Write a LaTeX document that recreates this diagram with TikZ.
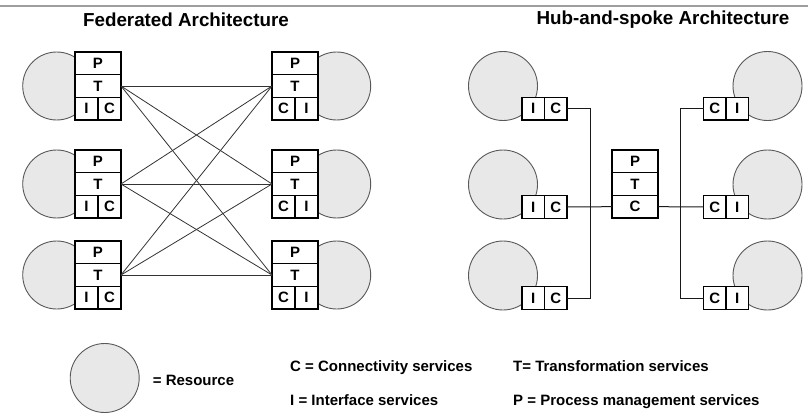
\documentclass[tikz,border=0pt]{standalone}
\usepackage{fontspec}
\setmainfont{Liberation Sans}
\begin{document}
\begin{tikzpicture}[x=1pt,y=-1pt,
  res/.style={circle,draw=black!65,fill=black!9,line width=0.9pt,minimum size=#1,inner sep=0pt},
  res/.default=69pt,
  cell/.style={draw=black,fill=white,line width=1.3pt,inner sep=0pt,outer sep=0pt,
    minimum height=22.67pt,font=\fontsize{15}{17}\selectfont\bfseries},
  wide/.style={cell,minimum width=46pt},
  half/.style={cell,minimum width=23pt},
  link/.style={draw=black!80,line width=0.8pt},
  bus/.style={draw=black!90,line width=1pt},
  title/.style={font=\fontsize{18.8}{22}\selectfont\bfseries},
  legend/.style={font=\fontsize{15}{18}\selectfont\bfseries,anchor=base west,inner sep=0pt}]
\useasboundingbox (0,0) rectangle (810,412);
\draw[black!38,line width=2.2pt] (0,6) -- (808,6);

\node[title] (tfed) at (186,20) {Federated Architecture};
\node[title] (thub) at (663,20) {Hub-and-spoke Architecture};

% ---------- federated: resources ----------
\foreach \k/\c in {1/86,2/184,3/275}{
  \node[res=68pt] (fl\k) at (56.7,\c) {};
  \node[res=68pt] (fr\k) at (336.7,\c) {};
}
% ---------- federated: service stacks ----------
\foreach \k/\t in {1/52,2/150,3/241}{
  \node[wide] (flP\k) at (98,\t+11.33) {P};
  \node[wide] (flT\k) at (98,\t+34) {T};
  \node[half] (flI\k) at (86.5,\t+56.67) {I};
  \node[half] (flC\k) at (109.5,\t+56.67) {C};
  \node[wide] (frP\k) at (295,\t+11.33) {P};
  \node[wide] (frT\k) at (295,\t+34) {T};
  \node[half] (frC\k) at (283.5,\t+56.67) {C};
  \node[half] (frI\k) at (306.5,\t+56.67) {I};
}
% every transformation layer talks to every other one
\foreach \i in {1,2,3}{
  \foreach \j in {1,2,3}{
    \draw[link] (flT\i.east) -- (frT\j.west);
  }
}

% ---------- hub-and-spoke: resources ----------
\foreach \k/\c in {1/86,2/184.5,3/275.5}{
  \node[res] (hl\k) at (503,\c) {};
  \node[res] (hr\k) at (767.5,\c) {};
}
% ---------- hub-and-spoke: adapters ----------
\tikzset{hhalf/.style={cell,minimum width=22.5pt}}
\foreach \k/\c in {1/108.7,2/207,3/298}{
  \node[hhalf] (hlI\k) at (533.25,\c) {I};
  \node[hhalf] (hlC\k) at (555.75,\c) {C};
  \node[hhalf] (hrC\k) at (714.75,\c) {C};
  \node[hhalf] (hrI\k) at (737.25,\c) {I};
}
% ---------- hub ----------
\node[wide] (hubP) at (635,161.3) {P};
\node[wide] (hubT) at (635,184) {T};
\node[wide] (hubC) at (635,206.67) {C};

% ---------- buses ----------
\coordinate (lbus) at (590,0);
\coordinate (rbus) at (680.5,0);
\draw[bus] (hlC1.east) -- (hlC1.east -| lbus) -- (hlC3.east -| lbus) -- (hlC3.east);
\draw[bus] (hlC2.east) -- (hubC.west);
\draw[bus] (hrC1.west) -- (hrC1.west -| rbus) -- (hrC3.west -| rbus) -- (hrC3.west);
\draw[bus] (hubC.east) -- (hrC2.west);

% ---------- legend ----------
\node[res] (lres) at (104.7,378) {};
\node[legend] (lgres) at (152.7,385.6) {= Resource};
\node[legend] (lgc) at (290,371.5) {C = Connectivity services};
\node[legend] (lgi) at (290,405.5) {I = Interface services};
\node[legend] (lgt) at (513,371.5) {T= Transformation services};
\node[legend] (lgp) at (513,405.5) {P = Process management services};
\end{tikzpicture}
\end{document}
